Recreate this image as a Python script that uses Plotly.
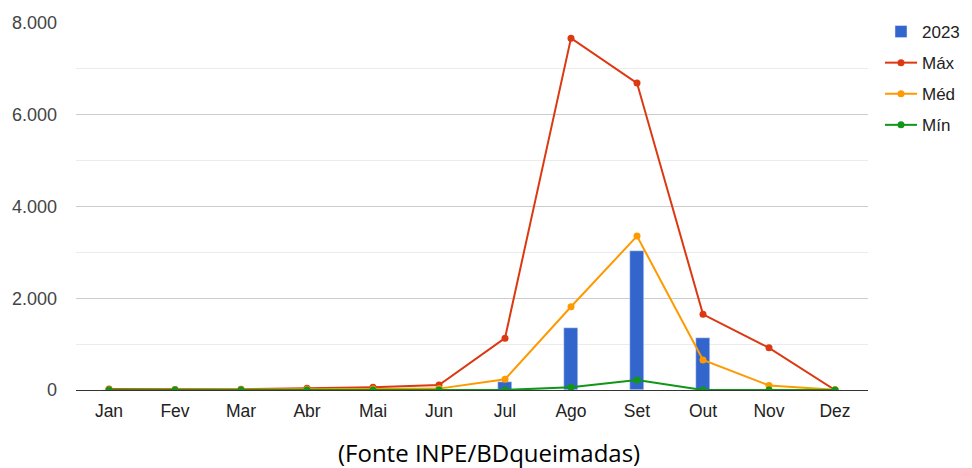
import plotly.graph_objects as go

months = ["Jan", "Fev", "Mar", "Abr", "Mai", "Jun", "Jul", "Ago", "Set", "Out", "Nov", "Dez"]
y2023 = [0, 0, 0, 0, 0, 0, 180, 1360, 3035, 1125, 0, 0]
v_max = [20, 10, 15, 40, 60, 110, 1130, 7670, 6690, 1650, 920, 0]
v_med = [5, 3, 5, 15, 20, 30, 233, 1815, 3355, 655, 100, 5]
v_min = [0, 0, 0, 0, 0, 0, 0, 60, 218, 0, 0, 0]

font_family = "Liberation Sans, Arial, sans-serif"

fig = go.Figure()
fig.add_trace(go.Bar(x=months, y=y2023, name="2023", marker_color="#3366cc",
                     width=0.2, legendgroup="a"))
fig.add_trace(go.Scatter(x=months, y=v_max, name="Máx", mode="lines+markers",
                         line=dict(color="#dc3912", width=2), marker=dict(size=7),
                         legendgroup="b"))
fig.add_trace(go.Scatter(x=months, y=v_med, name="Méd", mode="lines+markers",
                         line=dict(color="#ff9900", width=2), marker=dict(size=7),
                         legendgroup="c"))
fig.add_trace(go.Scatter(x=months, y=v_min, name="Mín", mode="lines+markers",
                         line=dict(color="#109618", width=2), marker=dict(size=7),
                         legendgroup="d"))

W, H = 964, 460
L, R, T, B = 68, 104, 15, 78
ph = H - T - B

fig.update_layout(
    width=W, height=H,
    margin=dict(l=L, r=R, t=T, b=B, autoexpand=False),
    paper_bgcolor="white", plot_bgcolor="white",
    separators=",.",
    font=dict(family=font_family, size=18, color="#444444"),
    showlegend=True,
    legend=dict(xref="container", yref="container",
                x=872 / W, y=1 - 6 / H, xanchor="left", yanchor="top",
                font=dict(size=17, color="#222222"),
                tracegroupgap=6, itemwidth=32,
                bgcolor="rgba(0,0,0,0)"),
    xaxis=dict(showgrid=False, showline=True, linecolor="#333333", linewidth=1,
               ticks="", ticklabelstandoff=5, automargin=False,
               tickfont=dict(size=17.5, color="#222222"),
               range=[-0.5, 11.5]),
    yaxis=dict(range=[0, 8000], dtick=2000, tickformat=",d",
               showgrid=True, gridcolor="#cccccc", gridwidth=1,
               zeroline=False, ticks="", ticklabelstandoff=18, automargin=False,
               tickfont=dict(size=18, color="#444444"),
               minor=dict(dtick=1000, showgrid=True, gridcolor="#ebebeb")),
    bargap=0,
)

fig.add_annotation(text="(Fonte INPE/BDqueimadas)", xref="paper", yref="paper",
                   x=(481 - L) / (W - L - R), y=-62 / ph, xanchor="center", yanchor="middle",
                   showarrow=False,
                   font=dict(family="Open Sans, Noto Sans, sans-serif", size=24, color="#000000"))

fig.write_html("out.html")
